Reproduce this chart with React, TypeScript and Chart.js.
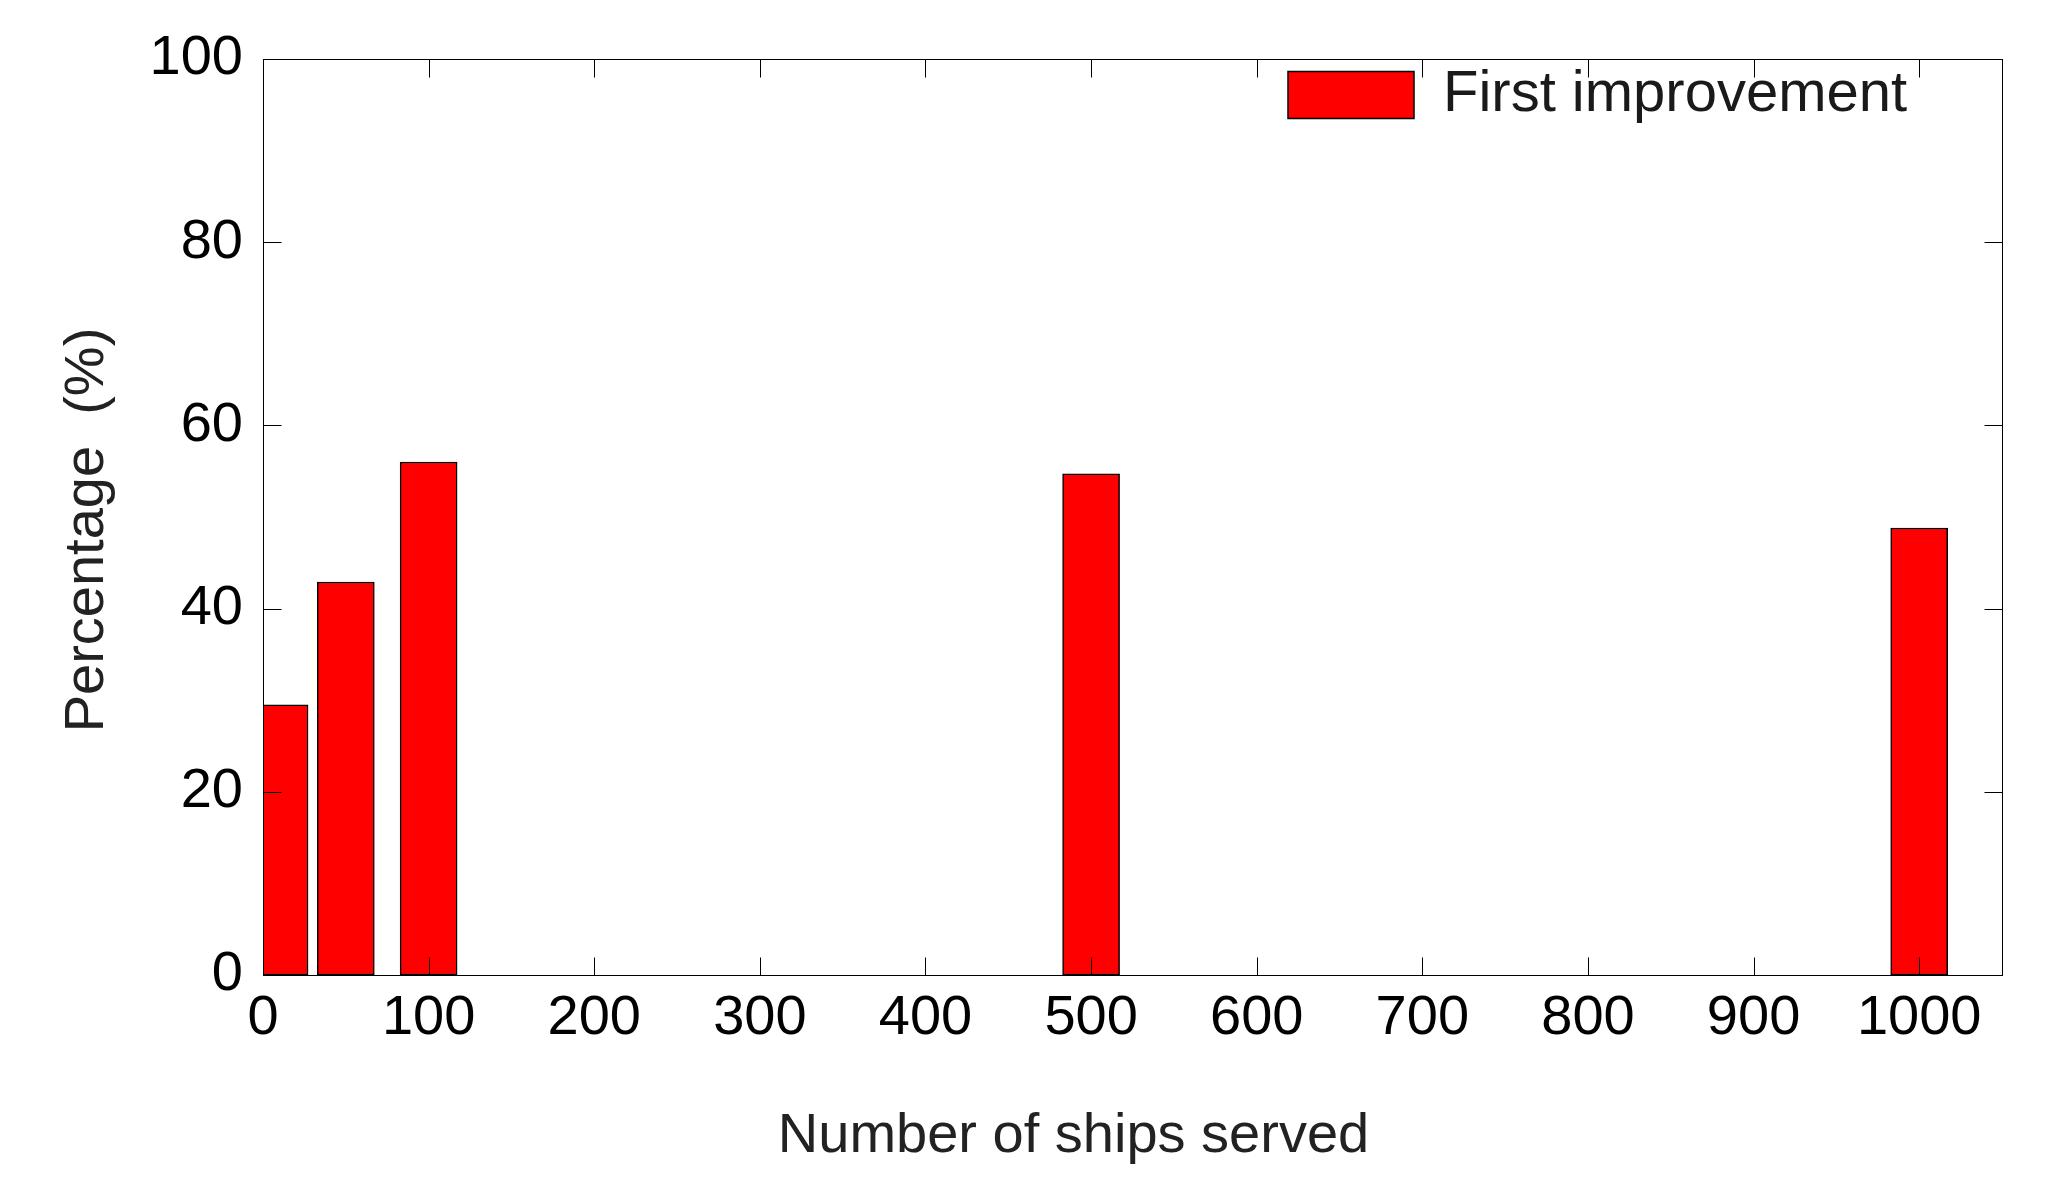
import React, { useEffect, useRef } from 'react';
import { Chart, registerables } from 'chart.js';

Chart.register(...registerables);

// ---- data ----
const shipsServed = [10, 50, 100, 500, 1000];
const firstImprovement = [29.5, 42.9, 56.0, 54.7, 48.8];
const xTickValues = [0, 100, 200, 300, 400, 500, 600, 700, 800, 900, 1000];
const yTickValues = [0, 20, 40, 60, 80, 100];
const seriesLabel = 'First improvement';
const xTitle = 'Number of ships served';
const yTitle = 'Percentage  (%)';

const FONT = "'Liberation Sans', Arial, Helvetica, sans-serif";
const TICK_LEN = 18;
const X_TITLE_SHIFT = -59;
const Y_TITLE_SHIFT = 13;

const frameAndTicks = {
  id: 'frameAndTicks',
  afterLayout(chart: any) {
    const a = chart.chartArea;
    const lg = chart.legend;
    if (lg) {
      lg.left = a.right - 724;
      lg.right = lg.left + lg.width;
      lg.top = a.top - 3;
      lg.bottom = lg.top + lg.height;
    }
  },
  beforeDraw(chart: any) {
    // nudge axis-title anchors while the scales draw (titles only)
    const sx = chart.scales.x;
    sx.left += X_TITLE_SHIFT;
    sx.right += X_TITLE_SHIFT;
    const sy = chart.scales.y;
    sy.top += Y_TITLE_SHIFT;
    sy.bottom += Y_TITLE_SHIFT;
  },
  beforeDatasetsDraw(chart: any) {
    const sx = chart.scales.x;
    sx.left -= X_TITLE_SHIFT;
    sx.right -= X_TITLE_SHIFT;
    const sy = chart.scales.y;
    sy.top -= Y_TITLE_SHIFT;
    sy.bottom -= Y_TITLE_SHIFT;
  },
  afterDatasetsDraw(chart: any) {
    const { ctx, chartArea: a, scales } = chart;
    const px = (v: number) => Math.round(v) + 0.5;
    const L = px(a.left), R = px(a.right), T = px(a.top), B = px(a.bottom);
    ctx.save();
    ctx.strokeStyle = '#000';
    ctx.lineWidth = 1;
    ctx.beginPath();
    for (const t of scales.x.ticks) {
      const p = px(scales.x.getPixelForValue(t.value));
      ctx.moveTo(p, B); ctx.lineTo(p, B - TICK_LEN);
      ctx.moveTo(p, T); ctx.lineTo(p, T + TICK_LEN);
    }
    for (const t of scales.y.ticks) {
      const p = px(scales.y.getPixelForValue(t.value));
      ctx.moveTo(L, p); ctx.lineTo(L + TICK_LEN, p);
      ctx.moveTo(R, p); ctx.lineTo(R - TICK_LEN, p);
    }
    ctx.stroke();
    ctx.strokeRect(L, T, R - L, B - T);
    ctx.restore();
  },
};

export default function App() {
  const ref = useRef<HTMLCanvasElement | null>(null);

  useEffect(() => {
    document.body.style.margin = '0';
    const canvas = ref.current;
    if (!canvas) return;
    const chart = new Chart(canvas, {
      type: 'bar',
      data: {
        datasets: [
          {
            label: seriesLabel,
            data: shipsServed.map((x, i) => ({ x, y: firstImprovement[i] })),
            backgroundColor: '#ff0000',
            borderColor: '#000000',
            borderWidth: 1.5,
            borderSkipped: false,
            barThickness: 57,
            clip: 0,
          } as any,
        ],
      },
      options: {
        animation: false,
        responsive: false,
        devicePixelRatio: 1,
        layout: { padding: { top: 59, right: 62, left: 0, bottom: 0 } },
        plugins: {
          legend: {
            display: true,
            position: 'chartArea' as any,
            align: 'start',
            labels: {
              boxWidth: 126,
              boxHeight: 47,
              padding: 10,
              color: '#1a1a1a',
              font: { family: FONT, size: 58 },
            },
          },
          tooltip: { enabled: false },
        },
        scales: {
          x: {
            type: 'linear',
            min: 0,
            max: 1050,
            offset: false,
            afterBuildTicks: (s: any) => {
              s.ticks = xTickValues.map((v) => ({ value: v }));
            },
            afterFit: (s: any) => {
              s.height = 225;
            },
            grid: { display: false, drawTicks: false, offset: false },
            border: { display: false },
            ticks: {
              color: '#000',
              padding: 10,
              maxRotation: 0,
              autoSkip: false,
              font: { family: FONT, size: 56 },
              callback: (v: any) => String(v),
            },
            title: {
              display: true,
              text: xTitle,
              color: '#222',
              font: { family: FONT, size: 56 },
              padding: { top: 0, bottom: 30 },
            },
          },
          y: {
            type: 'linear',
            min: 0,
            max: 100,
            afterBuildTicks: (s: any) => {
              s.ticks = yTickValues.map((v) => ({ value: v }));
            },
            afterFit: (s: any) => {
              s.width = 263;
            },
            grid: { display: false, drawTicks: false },
            border: { display: false },
            ticks: {
              color: '#000',
              padding: 20,
              autoSkip: false,
              font: { family: FONT, size: 56 },
              callback: (v: any) => String(v),
            },
            title: {
              display: true,
              text: yTitle,
              color: '#222',
              font: { family: FONT, size: 56 },
              padding: { top: 54, bottom: 0 },
            },
          },
        },
      },
      plugins: [frameAndTicks],
    });
    return () => chart.destroy();
  }, []);

  return (
    <canvas
      ref={ref}
      width={2064}
      height={1200}
      style={{ position: 'absolute', left: 0, top: 0, display: 'block' }}
    />
  );
}
